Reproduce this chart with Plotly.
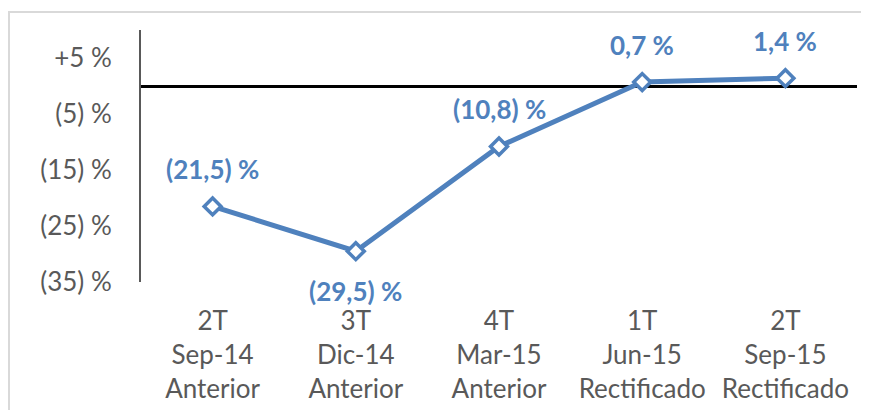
import plotly.graph_objects as go

categories = ["2T<br>Sep-14<br>Anterior", "3T<br>Dic-14<br>Anterior", "4T<br>Mar-15<br>Anterior",
              "1T<br>Jun-15<br>Rectificado", "2T<br>Sep-15<br>Rectificado"]
values = [-21.5, -29.5, -10.8, 0.7, 1.4]
value_labels = ["(21,5) %", "(29,5) %", "(10,8) %", "0,7 %", "1,4 %"]
label_above = [True, False, True, True, True]
tick_values = [5, -5, -15, -25, -35]
tick_labels = ["+5 %", "(5) %", "(15) %", "(25) %", "(35) %"]

blue = "#4F81BD"
gray = "#595959"
FS = 26

x_idx = list(range(len(categories)))
fig = go.Figure()
fig.add_trace(go.Scatter(
    x=x_idx, y=values, mode="lines+markers",
    line=dict(color=blue, width=5),
    marker=dict(symbol="diamond", size=13, color="white", line=dict(color=blue, width=3.5)),
    cliponaxis=False, showlegend=False,
))
for xi, v, t, up in zip(x_idx, values, value_labels, label_above):
    fig.add_annotation(x=xi, y=v, text=t, showarrow=False,
                       yshift=37 if up else -40,
                       font=dict(family="Lato", size=FS, color=blue, weight="bold"))

# page has 8px body margin; figure sized to fit window
W, H = 853, 402
L, T = 133, 22
R = W - 849
B = H - 274
pw, ph = W - L - R, H - T - B

fig.update_layout(
    width=W, height=H,
    margin=dict(l=L, r=R, t=T, b=B),
    paper_bgcolor="white", plot_bgcolor="white",
    font=dict(family="Lato", color=gray, size=FS),
    xaxis=dict(range=[-0.5, len(categories) - 0.5], tickvals=x_idx,
               ticktext=categories, showgrid=False, zeroline=False, showline=False,
               ticks="", tickfont=dict(size=FS), ticklabelstandoff=21),
    yaxis=dict(range=[-35, 10], tickvals=tick_values, ticktext=tick_labels,
               showgrid=False, zeroline=True, zerolinecolor="black", zerolinewidth=3,
               showline=True, linecolor=gray, linewidth=2, ticks="",
               ticklabelstandoff=22, tickfont=dict(size=FS)),
    shapes=[dict(type="rect", xref="paper", yref="paper",
                 x0=(1 - L) / pw, x1=(W + 20 - L) / pw,
                 y0=-(B + 20) / ph, y1=(ph + T - 4) / ph,
                 line=dict(color="#D9D9D9", width=2), layer="below")],
)

fig.write_html("out.html")
